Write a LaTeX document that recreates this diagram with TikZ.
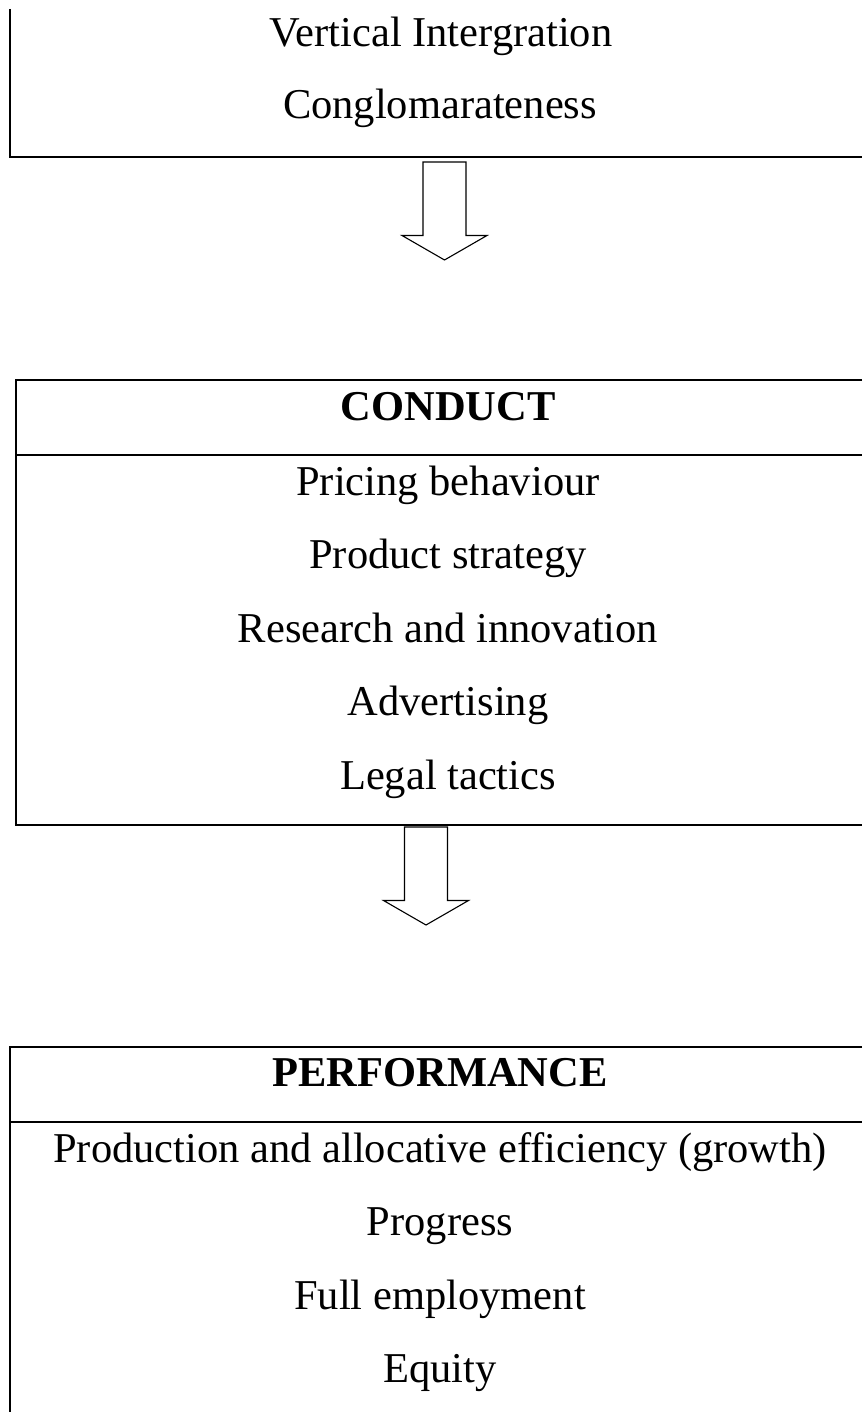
\documentclass[tikz,border=0pt]{standalone}
\usepackage{fontspec}
\setmainfont{Liberation Serif}

\begin{document}
\begin{tikzpicture}[x=0.5pt, y=-0.5pt, line width=0.85pt,
    item/.style={anchor=base, inner sep=0pt, font=\fontsize{21.25}{25}\selectfont},
    head/.style={item, font=\fontsize{21.25}{25}\selectfont\bfseries},
    blockarrow/.style={line width=0.55pt, line join=miter}]

        \useasboundingbox (0,0) rectangle (862,1412);

        % structure box (only its lower part is shown)
        \draw (10,9) -- (10,157) -- (862,157);
        \node[item] (vert) at (441,47) {Vertical Intergration};
        \node[item] (cong) at (440,119) {Conglomarateness};

        % conduct box
        \draw (862,380) -- (16,380) -- (16,825) -- (862,825);
        \draw (16,455) -- (862,455);
        \node[head] (conduct) at (448,420) {CONDUCT};
        \foreach \t [count=\k] in {Pricing behaviour, Product strategy, Research and innovation, Advertising, Legal tactics} {
            \node[item] (c\k) at (448,{495+73.5*(\k-1)}) {\t};
        }

        % performance box
        \draw (862,1047) -- (10,1047) -- (10,1412);
        \draw (10,1122) -- (862,1122);
        \node[head] (perf) at (440,1086) {PERFORMANCE};
        \foreach \t [count=\k] in {Production and allocative efficiency (growth), Progress, Full employment, Equity} {
            \node[item] (p\k) at (440,{1162+73.5*(\k-1)}) {\t};
        }

        % hollow block arrows between the boxes
        \coordinate (a1) at (444.5,162);
        \coordinate (a2) at (426,827);
        \foreach \a in {a1,a2} {
            \draw[blockarrow] (\a) ++(-21.5,0) -- ++(0,73.5) -- ++(-21,0) -- ++(42.5,24.5)
                -- ++(42.5,-24.5) -- ++(-21,0) -- ++(0,-73.5) -- cycle;
        }

    \end{tikzpicture}
\end{document}
